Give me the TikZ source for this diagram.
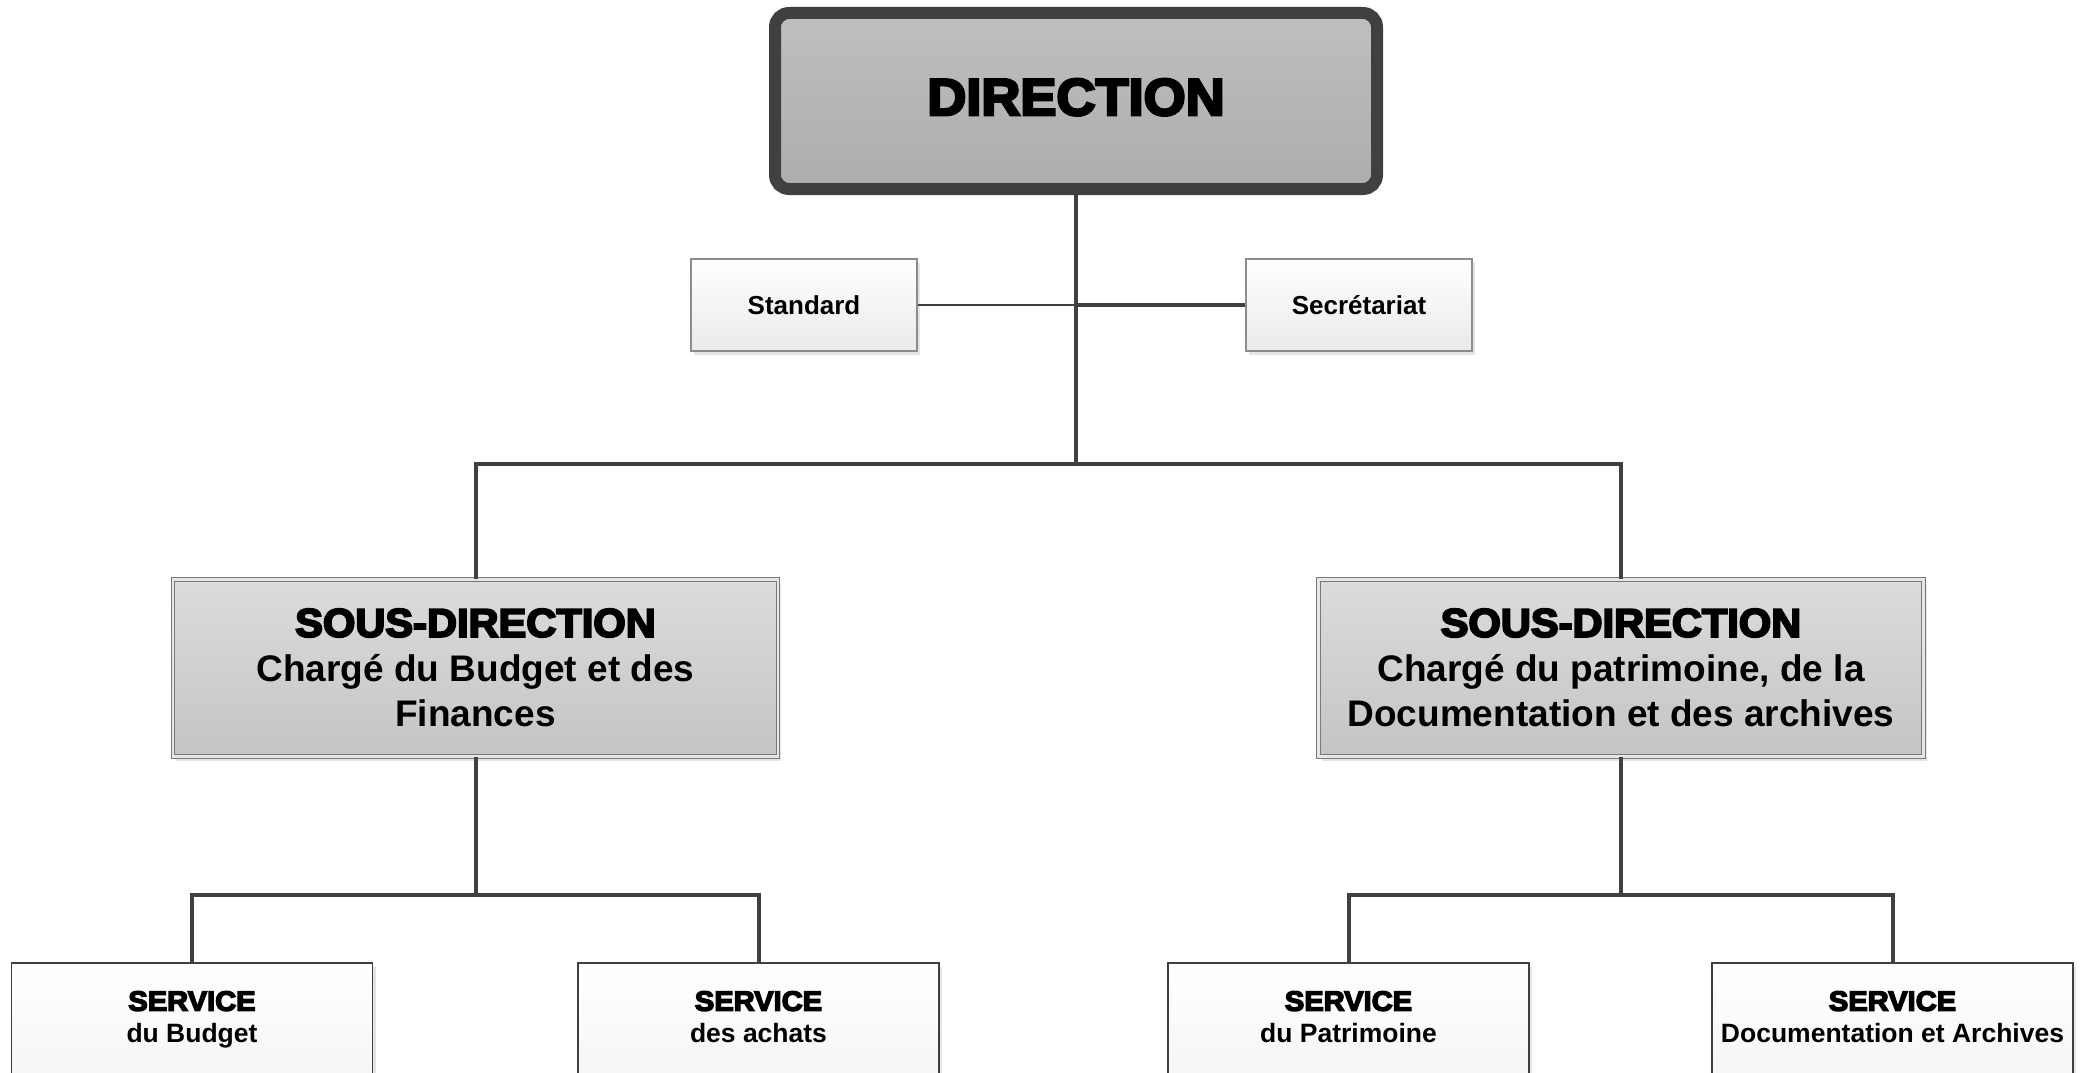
\documentclass[tikz,border=0pt]{standalone}
\usepackage{fontspec}
\setmainfont{Liberation Sans}
\newfontfamily\blackfont{Liberation Sans}[BoldFeatures={FakeBold=5, FakeStretch=1.04}]
\usetikzlibrary{shadows}
\definecolor{dgray}{HTML}{404040}
\definecolor{dirtop}{HTML}{BFBFBF}
\definecolor{dirbot}{HTML}{ADADAD}
\definecolor{sdtop}{HTML}{DCDCDC}
\definecolor{sdbot}{HTML}{C4C4C4}
\definecolor{sdline}{HTML}{7A7A7A}
\definecolor{sdgap}{HTML}{E6E6E6}
\definecolor{smline}{HTML}{8C8C8C}
\definecolor{smbot}{HTML}{EAEAEA}
\definecolor{svbot}{HTML}{EFEFEF}
\begin{document}
\begin{tikzpicture}[x=1pt,y=-1pt,
  shad/.style={drop shadow={shadow xshift=3pt, shadow yshift=-4pt, fill=black!30, opacity=0.35}},
  dirbox/.style={draw=dgray, line width=12pt, rounded corners=14pt, top color=dirtop, bottom color=dirbot,
    minimum width=602pt, minimum height=176pt, inner sep=0pt, shad, text depth=8pt},
  smallbox/.style={draw=smline, line width=1.2pt, top color=white, bottom color=smbot,
    minimum width=226pt, minimum height=92pt, inner sep=0pt, shad, font=\bfseries\fontsize{26}{30}\selectfont},
  sdbox/.style={draw=sdline, double=sdgap, double distance=2.5pt, line width=1.2pt, top color=sdtop, bottom color=sdbot,
    minimum width=605pt, minimum height=177pt, inner sep=0pt, align=center, shad,
    font=\bfseries\fontsize{37}{45}\selectfont},
  svcbox/.style={draw=dgray, line width=1.5pt, top color=white, bottom color=svbot,
    minimum width=361pt, minimum height=200pt, inner sep=0pt, shad},
  svctext/.style={anchor=north, inner sep=0pt, align=center, font=\bfseries\fontsize{26.5}{32}\selectfont},
  conn/.style={draw=dgray, line width=4pt},
  thinconn/.style={draw=dgray, line width=2.5pt},
  bigfont/.style={font=\blackfont\bfseries\fontsize{52}{60}\selectfont}
]
\useasboundingbox (0,0) rectangle (2091,1073);
\clip (0,0) rectangle (2091,1073);

\node[dirbox, bigfont] (dir) at (1076,101) {DIRECTION};

\node[smallbox] (std) at (804,305) {Standard};
\node[smallbox] (sec) at (1359,305) {Secrétariat};

\node[sdbox] (sdl) at (475.5,668) {{\blackfont\bfseries\fontsize{40}{45}\selectfont SOUS-DIRECTION}\\
  Chargé du Budget et des\\Finances};
\node[sdbox] (sdr) at (1621,668) {{\blackfont\bfseries\fontsize{40}{45}\selectfont SOUS-DIRECTION}\\
  Chargé du patrimoine, de la\\Documentation et des archives};

\node[svcbox] (s1) at (192,1063) {};
\node[svcbox] (s2) at (758.5,1063) {};
\node[svcbox] (s3) at (1348.5,1063) {};
\node[svcbox] (s4) at (1892.5,1063) {};

\node[svctext] (t1) at (192,991) {{\blackfont\bfseries\fontsize{28}{32}\selectfont SERVICE}\\du Budget};
\node[svctext] (t2) at (758.5,991) {{\blackfont\bfseries\fontsize{28}{32}\selectfont SERVICE}\\des achats};
\node[svctext] (t3) at (1348.5,991) {{\blackfont\bfseries\fontsize{28}{32}\selectfont SERVICE}\\du Patrimoine};
\node[svctext] (t4) at (1892.5,991) {{\blackfont\bfseries\fontsize{28}{32}\selectfont SERVICE}\\Documentation et Archives};

\coordinate (j0) at (1076,464);
\coordinate (j1) at (475.5,895);
\coordinate (j2) at (1621,895);

\draw[conn] (dir.south) -- (j0);
\draw[thinconn] (std.east) -- (std.east -| dir.south);
\draw[conn] (sec.west) -- (sec.west -| dir.south);
\draw[conn] (sdl.north) |- (j0) -| (sdr.north);
\draw[conn] (sdl.south) -- (j1);
\draw[conn] (s1.north) |- (j1) -| (s2.north);
\draw[conn] (sdr.south) -- (j2);
\draw[conn] (s3.north) |- (j2) -| (s4.north);
\end{tikzpicture}
\end{document}
